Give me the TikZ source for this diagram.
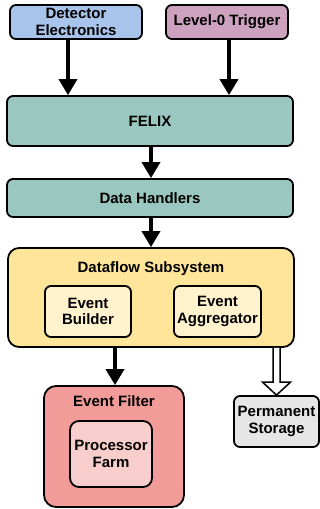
\documentclass[tikz,border=0pt]{standalone}
\usepackage{fontspec}
\setmainfont{Liberation Sans}
\usetikzlibrary{arrows.meta,calc}
\definecolor{cblue}{HTML}{A9C4EB}
\definecolor{cmauve}{HTML}{CDA2BE}
\definecolor{cteal}{HTML}{9AC7BF}
\definecolor{cyellow}{HTML}{FFE599}
\definecolor{clightyellow}{HTML}{FFF2CC}
\definecolor{cred}{HTML}{F19C99}
\definecolor{cpink}{HTML}{F8CECC}
\definecolor{cgrey}{HTML}{E6E6E6}
\tikzset{
  box/.style={draw=black, line width=1.8pt, rounded corners=6pt, align=center,
    font=\fontsize{15}{16.5}\selectfont\bfseries, inner sep=0pt},
  label/.style={font=\fontsize{15}{16.5}\selectfont\bfseries, inner sep=0pt},
  flow/.style={line width=3.5pt, -{Triangle[width=18pt,length=16pt]}},
  hollow/.style={draw=black, line width=1.5pt, fill=white, line join=miter}
}
\begin{document}
\begin{tikzpicture}[x=1pt,y=-1pt]
\useasboundingbox (0,0) rectangle (320,509);
% top boxes
\node[box, fill=cblue, minimum width=132, minimum height=34] (de) at (76,22) {Detector\\Electronics};
\node[box, fill=cmauve, minimum width=122, minimum height=34] (lt) at (227,22) {Level-0 Trigger};
\node[box, fill=cteal, minimum width=286, minimum height=50] (felix) at (150,121) {FELIX};
\node[box, fill=cteal, minimum width=286, minimum height=38] (dh) at (150,198) {Data Handlers};
% dataflow
\node[box, fill=cyellow, rounded corners=11pt, minimum width=286, minimum height=99] (df) at (151,297.5) {};
\node[label] (dflab) at (151,269) {Dataflow Subsystem};
\node[box, fill=clightyellow, minimum width=86, minimum height=51] (eb) at (88,311.5) {Event\\Builder};
\node[box, fill=clightyellow, minimum width=87, minimum height=51] (ea) at (217.5,311.5) {Event\\Aggregator};
% event filter
\node[box, fill=cred, rounded corners=12pt, minimum width=140, minimum height=121] (ef) at (114,446.5) {};
\node[label] (eflab) at (114,401) {Event Filter};
\node[box, fill=cpink, rounded corners=9pt, minimum width=82, minimum height=66] (pf) at (111,454) {Processor\\Farm};
% storage
\node[box, fill=cgrey, minimum width=85, minimum height=51] (ps) at (276.5,421.5) {Permanent\\Storage};
% arrows
\draw[flow] (de.south -| 68,0) -- (felix.north -| 68,0);
\draw[flow] (lt.south -| 229,0) -- (felix.north -| 229,0);
\draw[flow] (felix.south -| 151,0) -- (dh.north -| 151,0);
\draw[flow] (dh.south -| 151,0) -- (df.north -| 151,0);
\draw[flow] (df.south -| 115,0) -- (ef.north -| 115,0);
% hollow arrow
\coordinate (hs) at (df.south -| ps.north);
\coordinate (he) at (ps.north);
\draw[hollow] ($(hs)+(-3.5,0)$) -- ($(he)+(-3.5,-13)$) -- ($(he)+(-14,-13)$) -- (he)
  -- ($(he)+(14,-13)$) -- ($(he)+(3.5,-13)$) -- ($(hs)+(3.5,0)$);
\end{tikzpicture}
\end{document}
